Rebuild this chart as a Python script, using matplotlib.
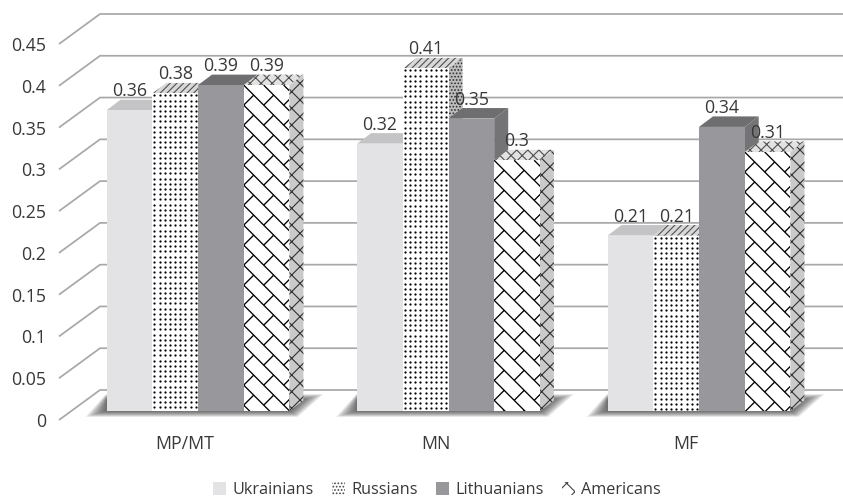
import numpy as np
import matplotlib
matplotlib.use("Agg")
import matplotlib.pyplot as plt
from matplotlib.patches import Polygon, Patch
from matplotlib.collections import LineCollection

categories = ["MP/MT", "MN", "MF"]
series_names = ["Ukrainians", "Russians", "Lithuanians", "Americans"]
ukrainians = [0.36, 0.32, 0.21]
russians = [0.38, 0.41, 0.21]
lithuanians = [0.39, 0.35, 0.34]
americans = [0.39, 0.30, 0.31]
value_labels = [["0.36", "0.32", "0.21"], ["0.38", "0.41", "0.21"],
                ["0.39", "0.35", "0.34"], ["0.39", "0.3", "0.31"]]
yticks = [0, 0.05, 0.1, 0.15, 0.2, 0.25, 0.3, 0.35, 0.4, 0.45]
ytick_labels = ["0", "0.05", "0.1", "0.15", "0.2", "0.25", "0.3", "0.35", "0.4", "0.45"]

plt.rcParams["font.family"] = ["Open Sans", "DejaVu Sans"]
plt.rcParams["hatch.linewidth"] = 0.8
TXT = "#383838"
FS = 12.8
W_PX, H_PX = 843, 498
fig = plt.figure(figsize=(W_PX / 100, H_PX / 100), dpi=100)
ax = fig.add_axes([59 / W_PX, (H_PX - 420) / H_PX, 784 / W_PX, 376 / H_PX])
GROUP = 250.5
UNIT = 376 / 0.45
X = lambda px: (px - 185) / GROUP
Y = lambda py: (420 - py) / UNIT
ax.set_xlim(X(59), X(843))
ax.set_ylim(0, 0.45)
for s in ax.spines.values():
    s.set_visible(False)
ax.set_yticks(yticks, ytick_labels, fontsize=FS, color=TXT)
ax.set_xticks(range(len(categories)), categories, fontsize=FS, color=TXT)
ax.tick_params(axis="y", length=0, pad=9.5)
ax.tick_params(axis="x", length=0, pad=10.5)

# back wall and side wall grid
depth_x, depth_y = 41 / GROUP, 30 / UNIT
for v in yticks:
    ax.plot([X(59), X(59) + depth_x, X(843)], [v, v + depth_y, v + depth_y],
            color="#a8a8a8", lw=1.25, zorder=0.5, clip_on=False, solid_capstyle="butt")

# floor shadows
base = 9 / UNIT
bar_w = 45.7 / GROUP
offset = 13 / GROUP
ddx, ddy = 14 / GROUP, 10.5 / UNIT
for i in range(len(categories)):
    x0, x1 = 106 + GROUP * i, 290 + GROUP * i
    for t in np.linspace(1, 0, 26):
        pts = [(x0 - 21 * t, 411 + 6 * t), (x1 + 8 * t, 411 + 6 * t),
               (x1 + 12 + 22 * t, 400 - 6 * t), (x0, 400 - 6 * t)]
        ax.add_patch(Polygon([(X(a), Y(b)) for a, b in pts], closed=True, fc="#303030",
                             ec="none", alpha=0.038, zorder=1, clip_on=False))

styles = [
    dict(front="#e3e3e5", top="#c4c4c6", side="#c4c4c6", hatch=None, top_h=None, side_h=None),
    dict(front="white", top="#d8d8d8", side="#bcbcbc", hatch=None, top_h="/////", side_h="....."),
    dict(front="#98989c", top="#6e6e71", side="#747477", hatch=None, top_h=None, side_h=None),
    dict(front="white", top="#e2e2e2", side="#cacaca", hatch=None, top_h="xxx", side_h="xx"),
]
all_values = [ukrainians, russians, lithuanians, americans]
for j, (vals, st) in enumerate(zip(all_values, styles)):
    xs = np.arange(len(vals)) + offset + (j - 1.5) * bar_w
    bars = ax.bar(xs, vals, width=bar_w, bottom=base, color=st["front"], linewidth=0,
                  hatch=st["hatch"], edgecolor="black", zorder=2 + j + 0.5, clip_on=False,
                  label=series_names[j])
    for x, v, bar, lab in zip(xs, vals, bars, value_labels[j]):
        l, r, t, b = x - bar_w / 2, x + bar_w / 2, base + v, base
        ax.add_patch(Polygon([(l, t), (r, t), (r + ddx, t + ddy), (l + ddx, t + ddy)], closed=True,
                             fc=st["top"], ec="#505050" if st["top_h"] else "none", lw=0,
                             hatch=st["top_h"], zorder=2 + j, clip_on=False))
        ax.add_patch(Polygon([(r, t), (r + ddx, t + ddy), (r + ddx, b + ddy), (r, b)], closed=True,
                             fc=st["side"], ec="#303030" if st["side_h"] else "none", lw=0,
                             hatch=st["side_h"], zorder=2 + j, clip_on=False))
        ax.text(x, t + 19 / UNIT, lab, ha="center", va="center", fontsize=FS, color=TXT, zorder=20)
        bl = l * GROUP + 185
        top_px = 420 - t * UNIT
        if j == 1:
            # regular dot texture of the Russians series
            gx, gy = np.meshgrid(np.arange(bl + 2, bl + 46, 5.2), np.arange(top_px + 2, 412, 5.2))
            dots = ax.scatter(X(gx.ravel()), Y(gy.ravel()), s=2.6, c="black", linewidths=0,
                              zorder=2 + j + 0.6)
            dots.set_clip_path(bar)
        if j == 3:
            # diagonal brick texture of the Americans series
            segs = []
            for k in range(-40, 40):
                u = bl + 20 * k
                segs.append([(u, top_px), (u + 340, top_px + 340)])
            for k in range(-40, 40):
                for m in range(-40, 40):
                    if (k - m) % 2 == 0:
                        a0, a1 = 20 * k, 20 * (k + 1)
                        c = 20 * m
                        segs.append([(bl + (c + a0) / 2, top_px + (c - a0) / 2),
                                     (bl + (c + a1) / 2, top_px + (c - a1) / 2)])
            lc = LineCollection([[(X(a), Y(b_)) for a, b_ in s] for s in segs], colors="black",
                                linewidths=0.95, zorder=2 + j + 0.6)
            ax.add_collection(lc, autolim=False)
            lc.set_clip_path(bar)

handles = [Patch(fc=styles[0]["front"], ec="none"),
           Patch(fc="white", ec="#444444", lw=0, hatch="....."),
           Patch(fc=styles[2]["front"], ec="none"),
           Patch(fc="white", ec="#444444", lw=0, hatch="xx")]
leg = fig.legend(handles, series_names, loc="center", bbox_to_anchor=(437 / W_PX, (H_PX - 490) / H_PX),
                 ncol=4, frameon=False, fontsize=11.7, labelcolor=TXT, handlelength=0.8, handleheight=0.8,
                 handletextpad=0.4, columnspacing=1.1, borderpad=0, borderaxespad=0)
fig.savefig("out.png", dpi=100)
